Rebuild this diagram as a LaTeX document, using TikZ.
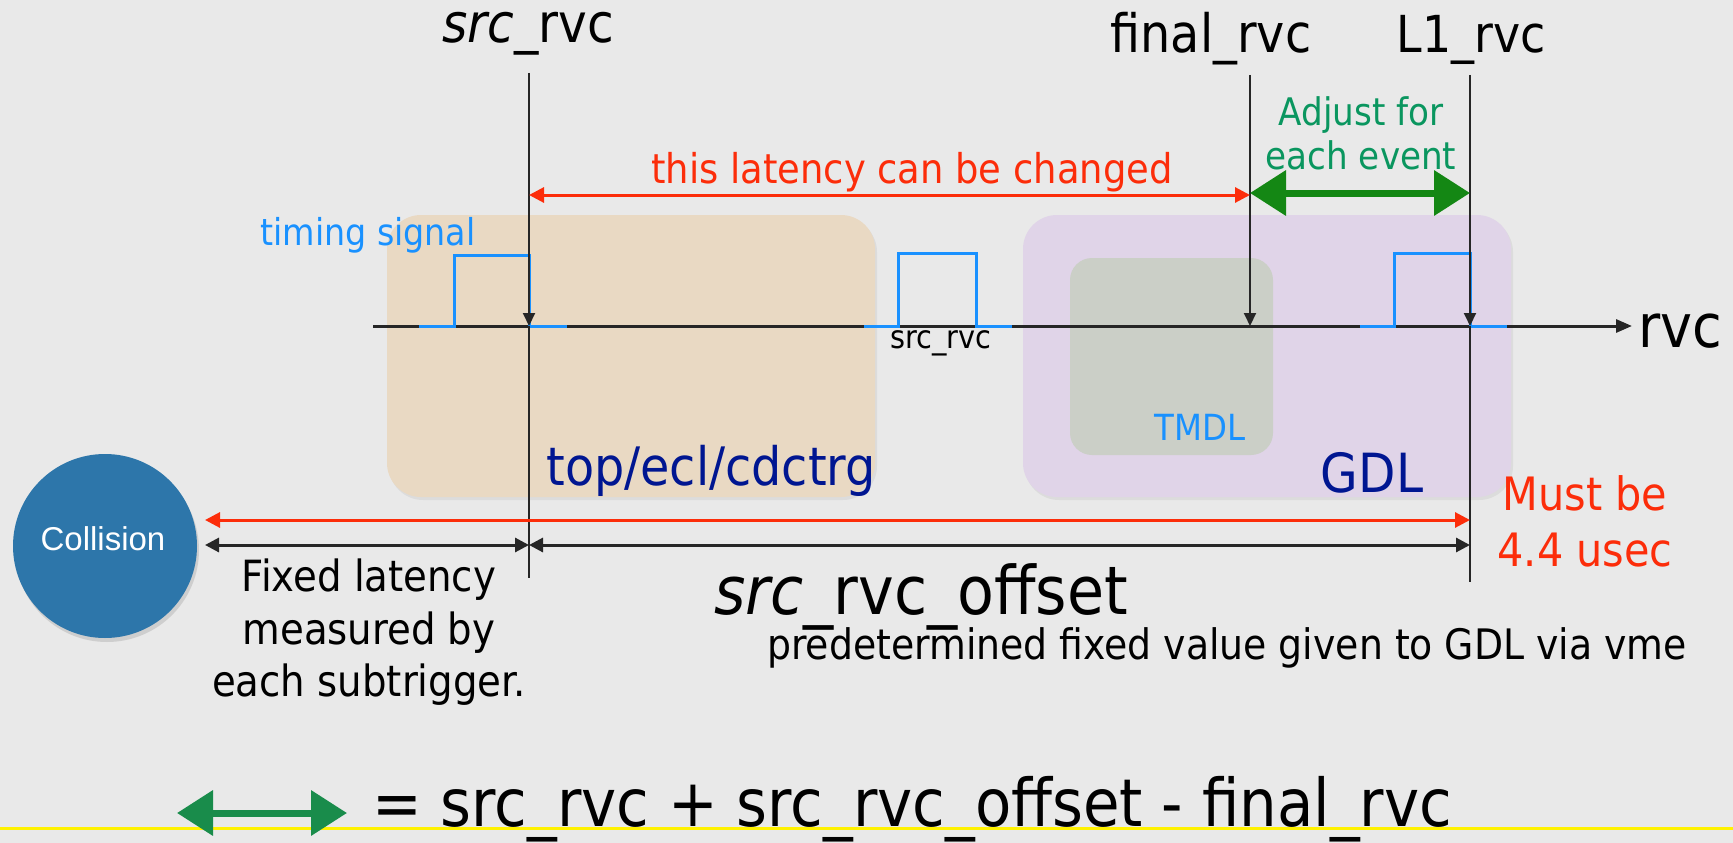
\documentclass[tikz,border=0pt]{standalone}
\usepackage{fontspec}
\setmainfont{DejaVu Sans Condensed}
\newfontfamily\collfont{Liberation Sans}
\usetikzlibrary{arrows.meta,shadows}
\definecolor{bg}{RGB}{233,233,233}
\definecolor{beige}{RGB}{233,217,195}
\definecolor{gdlpurple}{RGB}{224,212,232}
\definecolor{tmdlgray}{RGB}{203,207,199}
\definecolor{navy}{RGB}{0,22,145}
\definecolor{sigblue}{RGB}{25,145,255}
\definecolor{redc}{RGB}{252,45,10}
\definecolor{greena}{RGB}{20,135,20}
\definecolor{greenb}{RGB}{25,140,75}
\definecolor{greentext}{RGB}{10,150,95}
\definecolor{collblue}{RGB}{45,118,170}
\newcommand{\fs}[1]{\fontsize{#1}{#1}\selectfont}
\tikzset{
  lbl/.style={inner sep=0pt, anchor=base},
  region/.style={rounded corners=34pt, draw=none},
  axisline/.style={line width=3pt, black!85, -{Triangle[length=16pt,width=13pt]}},
  vline/.style={line width=2pt, black!85},
  vtip/.style={vline, -{Triangle[length=13pt,width=12pt]}},
  sig/.style={line width=3pt, sigblue},
  redarrow/.style={line width=3pt, redc},
  blkarrow/.style={line width=3pt, black!85},
  greenarrow/.style={line width=7pt},
}
\begin{document}
\begin{tikzpicture}[x=1pt,y=-1pt]
\path[use as bounding box, fill=bg] (0,0) rectangle (1733,843);

% regions
\path[region, fill=beige, drop shadow={shadow xshift=2pt, shadow yshift=-3pt, opacity=0.12}] (387,215) rectangle (875,497);
\path[region, fill=gdlpurple, drop shadow={shadow xshift=2pt, shadow yshift=-3pt, opacity=0.12}] (1023,215) rectangle (1511,497);
\path[rounded corners=22pt, fill=tmdlgray] (1070,258) rectangle (1273,455);

% coordinates
\coordinate (axL) at (373,326);
\coordinate (axR) at (1632,326);
\coordinate (srcT) at (529,73);
\coordinate (srcA) at (529,326);
\coordinate (srcB) at (529,578);
\coordinate (finT) at (1250,75);
\coordinate (finA) at (1250,326);
\coordinate (lT) at (1470,75);
\coordinate (lA) at (1470,326);
\coordinate (lB) at (1470,582);
\coordinate (redL) at (529,195);
\coordinate (redR) at (1250,195);
\coordinate (grL) at (1250,193);
\coordinate (grR) at (1470,193);
\coordinate (longL) at (205,520);
\coordinate (longR) at (1470,520);
\coordinate (blkL) at (205,545);
\coordinate (blkM) at (529,545);
\coordinate (blkR) at (1470,545);
\coordinate (eqL) at (177,813);
\coordinate (eqR) at (347,813);
\coordinate (yelL) at (0,828);
\coordinate (yelR) at (1733,828);

% axis
\draw[axisline] (axL) -- (axR);

% timing signals
\draw[sig] (419,326) -- (454,326) -- (454,255) -- (529,255) -- (529,326) -- (567,326);
\draw[sig] (864,326) -- (898,326) -- (898,253) -- (976,253) -- (976,326) -- (1012,326);
\draw[sig] (1360,326) -- (1394,326) -- (1394,253) -- (1470,253) -- (1470,326) -- (1507,326);

% vertical markers
\draw[vtip] (srcT) -- (srcA);
\draw[vline] (srcA) -- (srcB);
\draw[vtip] (finT) -- (finA);
\draw[vtip] (lT) -- (lA);
\draw[vline] (lA) -- (lB);

% arrows
\draw[redarrow, {Triangle[length=15pt,width=15pt]}-{Triangle[length=15pt,width=15pt]}] (redL) -- (redR);
\draw[greenarrow, greena, {Triangle[length=36pt,width=44pt]}-{Triangle[length=36pt,width=44pt]}] (grL) -- (grR);
\draw[redarrow, {Triangle[length=15pt,width=15pt]}-{Triangle[length=15pt,width=15pt]}] (longL) -- (longR);
\draw[blkarrow, {Triangle[length=14pt,width=14pt]}-{Triangle[length=14pt,width=14pt]}] (blkL) -- (blkM);
\draw[blkarrow, {Triangle[length=14pt,width=14pt]}-{Triangle[length=14pt,width=14pt]}] (blkM) -- (blkR);

% collision
\node[circle, fill=collblue, minimum size=184pt, inner sep=0pt, drop shadow={shadow xshift=2pt, shadow yshift=-4pt, opacity=0.25}] (coll) at (105,546) {};
\node[lbl, text=white, font=\collfont\fs{33}] (colltxt) at (103,550) {Collision};

% yellow line and equation
\draw[line width=3pt, yellow] (yelL) -- (yelR);
\draw[greenarrow, greenb, {Triangle[length=36pt,width=44pt]}-{Triangle[length=36pt,width=44pt]}] (eqL) -- (eqR);
\node[lbl, font=\fs{66}] (eq) at (912,826) {= src\_rvc + src\_rvc\_offset - final\_rvc};

% labels
\node[lbl, font=\fs{54}] (srclbl) at (528,43) {\textit{src}\_rvc};
\node[lbl, font=\fs{53}] (finlbl) at (1211,53) {final\_rvc};
\node[lbl, font=\fs{51}] (l1lbl) at (1471,53) {L1\_rvc};
\node[lbl, text=redc, font=\fs{41}] (chg) at (912,183) {this latency can be changed};
\node[lbl, text=greentext, font=\fs{38}] (adj1) at (1361,125) {Adjust for};
\node[lbl, text=greentext, font=\fs{38}] (adj2) at (1361,169) {each event};
\node[lbl, text=sigblue, font=\fs{37}] (timing) at (368,245) {timing signal};
\node[lbl, font=\fs{32}] (smallsrc) at (941,348) {src\_rvc};
\node[lbl, text=sigblue, font=\fs{36}] (tmdl) at (1200,440) {TMDL};
\node[lbl, text=navy, font=\fs{53}] (topecl) at (711,485) {top/ecl/cdctrg};
\node[lbl, text=navy, font=\fs{54}] (gdl) at (1372,492) {GDL};
\node[lbl, anchor=base west, font=\fs{60}] (rvc) at (1638,347) {rvc};
\node[lbl, text=redc, font=\fs{46}] (must1) at (1585,510) {Must be};
\node[lbl, text=redc, font=\fs{46}] (must2) at (1585,566) {4.4 usec};
\node[lbl, font=\fs{43}] (fix1) at (369,591) {Fixed latency};
\node[lbl, font=\fs{43}] (fix2) at (369,644) {measured by};
\node[lbl, font=\fs{43}] (fix3) at (369,696) {each subtrigger.};
\node[lbl, font=\fs{67}] (offset) at (921,614) {\textit{src}\_rvc\_offset};
\node[lbl, font=\fs{42}] (pred) at (1227,659) {predetermined fixed value given to GDL via vme};
\end{tikzpicture}
\end{document}
